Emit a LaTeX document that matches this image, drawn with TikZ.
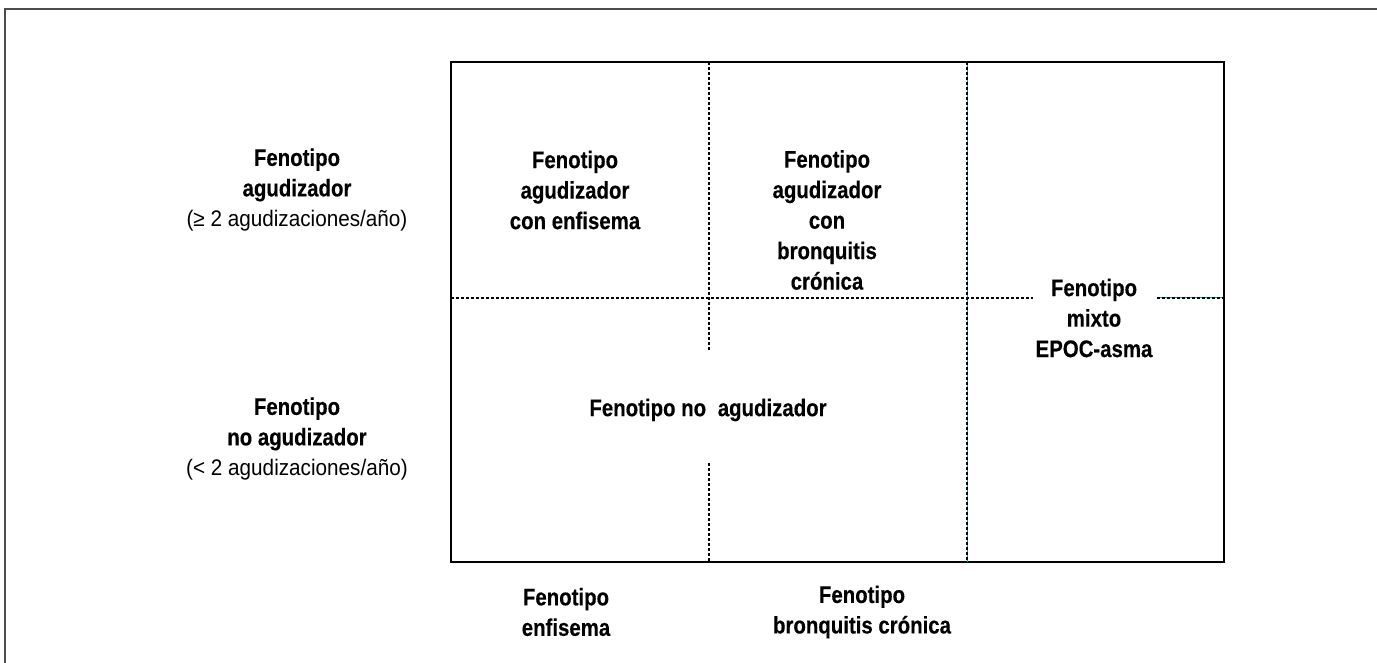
\documentclass[tikz,border=0pt]{standalone}
\usepackage{fontspec}
\setmainfont{Liberation Sans}
\newfontfamily\condbold{Liberation Sans Bold}[FakeStretch=0.85,FakeBold=0.3]
\newfontfamily\condreg{Liberation Sans}[FakeStretch=0.92]
\begin{document}
\begin{tikzpicture}[x=1pt,y=-1pt,
  lbl/.style={align=center,inner sep=0pt,font=\fontsize{24}{30.5}\selectfont\condbold},
  frame/.style={draw=black!70,line width=1.3pt},
  boxline/.style={draw=black,line width=1.5pt},
  dotline/.style={draw=black,line width=2.8pt,dash pattern=on 2.6pt off 2.4pt},
  tealline/.style={draw=teal!70!cyan,line width=1pt}]
\newcommand\regtext[1]{{\fontsize{22.5}{30.5}\selectfont\condreg #1}}
\useasboundingbox (0,0) rectangle (1377,663);
% outer frame (top and left edges)
\coordinate (fTL) at (5,9);
\coordinate (fTR) at (1377,9);
\coordinate (fBL) at (5,663);
\draw[frame] (fTR) -- (fTL) -- (fBL);
% main box
\coordinate (bTL) at (451,62);
\coordinate (bBR) at (1224,562);
\draw[boxline] (bTL) rectangle (bBR);
% divider coordinates
\coordinate (v1a) at (709,62);
\coordinate (v1b) at (709,351);
\coordinate (v1c) at (709,463);
\coordinate (v1d) at (709,562);
\coordinate (v2a) at (967,62);
\coordinate (v2b) at (967,562);
\coordinate (h1a) at (451,298);
\coordinate (h1b) at (1033,298);
\coordinate (h2a) at (1157,298);
\coordinate (h2b) at (1224,298);
\draw[tealline] (v2a) -- (v2b);
\draw[tealline] (h2a) -- (h2b);
\draw[dotline] (v1a) -- (v1b);
\draw[dotline] (v1c) -- (v1d);
\draw[dotline] (v2a) -- (v2b);
\draw[dotline] (h1a) -- (h1b);
\draw[dotline] (h2a) -- (h2b);
% texts
\node[lbl] (lagud) at (297,190) {Fenotipo\\agudizador\\\regtext{(≥ 2 agudizaciones/año)}};
\node[lbl] (lnoag) at (297,439) {Fenotipo\\no agudizador\\\regtext{(< 2 agudizaciones/año)}};
\node[lbl] (cenf) at (575,190) {Fenotipo\\agudizador\\con enfisema};
\node[lbl] (cbron) at (827,220) {Fenotipo\\agudizador\\con\\bronquitis\\crónica};
\node[lbl] (cmix) at (1094,318) {Fenotipo\\mixto\\EPOC-asma};
\node[lbl] (cnoag) at (708,410) {Fenotipo no\hspace{0.25em} agudizador};
\node[lbl] (benf) at (566,612) {Fenotipo\\enfisema};
\node[lbl] (bbron) at (862,612) {Fenotipo\\bronquitis crónica};
\end{tikzpicture}
\end{document}
